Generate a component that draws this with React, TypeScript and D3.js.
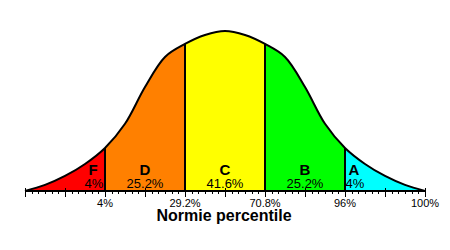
import React, { useEffect, useRef } from 'react'
import * as d3 from 'd3'

// curve, x in standard deviations, height relative to the peak
const zs = [-2.5, -2.25, -2, -1.75, -1.5, -1.25, -1, -0.75, -0.5, -0.25, 0, 0.25, 0.5, 0.75, 1, 1.25, 1.5, 1.75, 2, 2.25, 2.5]
const heights = [0, 3.8, 9.4, 16.9, 26.9, 42, 65, 83.8, 91.9, 97.5, 100, 97.5, 91.9, 83.8, 65, 42, 26.9, 16.9, 9.4, 3.8, 0]

const bandEdges = [-2.5, -1.5, -0.5, 0.5, 1.5, 2.5]
const grades = ['F', 'D', 'C', 'B', 'A']
const shares = ['4%', '25.2%', '41.6%', '25.2%', '4%']
const bandColors = ['#ff0000', '#ff8000', '#ffff00', '#00ff00', '#00ffff']

const tickAt = [-1.5, -0.5, 0.5, 1.5, 2.5]
const tickLabels = ['4%', '29.2%', '70.8%', '96%', '100%']

const title = 'Normie percentile'

export default function App() {
  const ref = useRef<SVGSVGElement | null>(null)

  useEffect(() => {
    const svg = d3.select(ref.current)
    svg.selectAll('*').remove()

    const font = '"Liberation Sans", Arial, sans-serif'
    const baseY = 191
    const x = d3.scaleLinear().domain([-2.5, 2.5]).range([25, 425])
    const y = d3.scaleLinear().domain([0, 100]).range([baseY, 31])

    const pts: [number, number][] = zs.map((z, i) => [z, heights[i]])

    const area = d3.area<[number, number]>()
      .x(d => x(d[0]))
      .y0(baseY)
      .y1(d => y(d[1]))
      .curve(d3.curveCatmullRom)

    const line = d3.line<[number, number]>()
      .x(d => x(d[0]))
      .y(d => y(d[1]))
      .curve(d3.curveCatmullRom)

    const defs = svg.append('defs')
    defs.append('clipPath').attr('id', 'under')
      .append('path').attr('d', area(pts))

    bandColors.forEach((c, i) => {
      defs.append('clipPath').attr('id', `band${i}`)
        .append('rect')
        .attr('x', x(bandEdges[i]))
        .attr('y', 0)
        .attr('width', x(bandEdges[i + 1]) - x(bandEdges[i]))
        .attr('height', 250)
    })

    // Bands
    svg.selectAll('path.band')
      .data(bandColors)
      .enter()
      .append('path')
      .attr('class', 'band')
      .attr('d', area(pts))
      .attr('fill', d => d)
      .attr('clip-path', (d, i) => `url(#band${i})`)

    // Band separators
    svg.append('g')
      .attr('clip-path', 'url(#under)')
      .selectAll('line')
      .data(bandEdges.slice(1, -1))
      .enter()
      .append('line')
      .attr('x1', d => Math.round(x(d)))
      .attr('x2', d => Math.round(x(d)))
      .attr('y1', 0)
      .attr('y2', baseY)
      .attr('stroke', '#000')
      .attr('stroke-width', 2)
      .attr('shape-rendering', 'crispEdges')

    // Curve
    svg.append('path')
      .attr('d', line(pts))
      .attr('fill', 'none')
      .attr('stroke', '#000')
      .attr('stroke-width', 2)

    // Axis
    svg.append('line')
      .attr('x1', x(-2.5)).attr('x2', x(2.5))
      .attr('y1', baseY).attr('y2', baseY)
      .attr('stroke', '#000')
      .attr('stroke-width', 2)
      .attr('shape-rendering', 'crispEdges')

    const minor = d3.range(0, 61).map(k => -2.5 + k / 12)
    svg.append('g').selectAll('line')
      .data(minor)
      .enter()
      .append('line')
      .attr('x1', d => Math.round(x(d)) + 0.5)
      .attr('x2', d => Math.round(x(d)) + 0.5)
      .attr('y1', (d, i) => (i % 6 === 0 ? baseY - 3 : baseY))
      .attr('y2', (d, i) => (i % 6 === 0 ? baseY + 6 : baseY + 3))
      .attr('stroke', '#000')
      .attr('stroke-width', 1)
      .attr('shape-rendering', 'crispEdges')

    svg.append('g').selectAll('text')
      .data(tickLabels)
      .enter()
      .append('text')
      .attr('x', (d, i) => x(tickAt[i]))
      .attr('y', 207)
      .attr('text-anchor', 'middle')
      .attr('font-family', font)
      .attr('font-size', '11px')
      .text(d => d)

    // Grade labels
    const labelAt = (i: number) => {
      if (i === 0) return x(bandEdges[1]) - 12
      if (i === grades.length - 1) return x(bandEdges[i]) + 9
      return x((bandEdges[i] + bandEdges[i + 1]) / 2)
    }

    svg.append('g').selectAll('text')
      .data(grades)
      .enter()
      .append('text')
      .attr('x', (d, i) => labelAt(i))
      .attr('y', 175)
      .attr('text-anchor', 'middle')
      .attr('font-family', font)
      .attr('font-weight', 'bold')
      .attr('font-size', '15px')
      .text(d => d)

    svg.append('g').selectAll('text')
      .data(shares)
      .enter()
      .append('text')
      .attr('x', (d, i) => labelAt(i) + (i === 0 || i === shares.length - 1 ? 1 : 0))
      .attr('y', 187.5)
      .attr('text-anchor', 'middle')
      .attr('font-family', font)
      .attr('font-size', '13px')
      .text(d => d)

    // Title
    svg.append('text')
      .attr('x', 224)
      .attr('y', 221)
      .attr('text-anchor', 'middle')
      .attr('font-family', font)
      .attr('font-weight', 'bold')
      .attr('font-size', '16px')
      .text(title)
  }, [])

  return (
    <svg ref={ref} width={450} height={250}
      style={{ position: 'absolute', left: 0, top: 0, background: '#fff' }} />
  )
}
